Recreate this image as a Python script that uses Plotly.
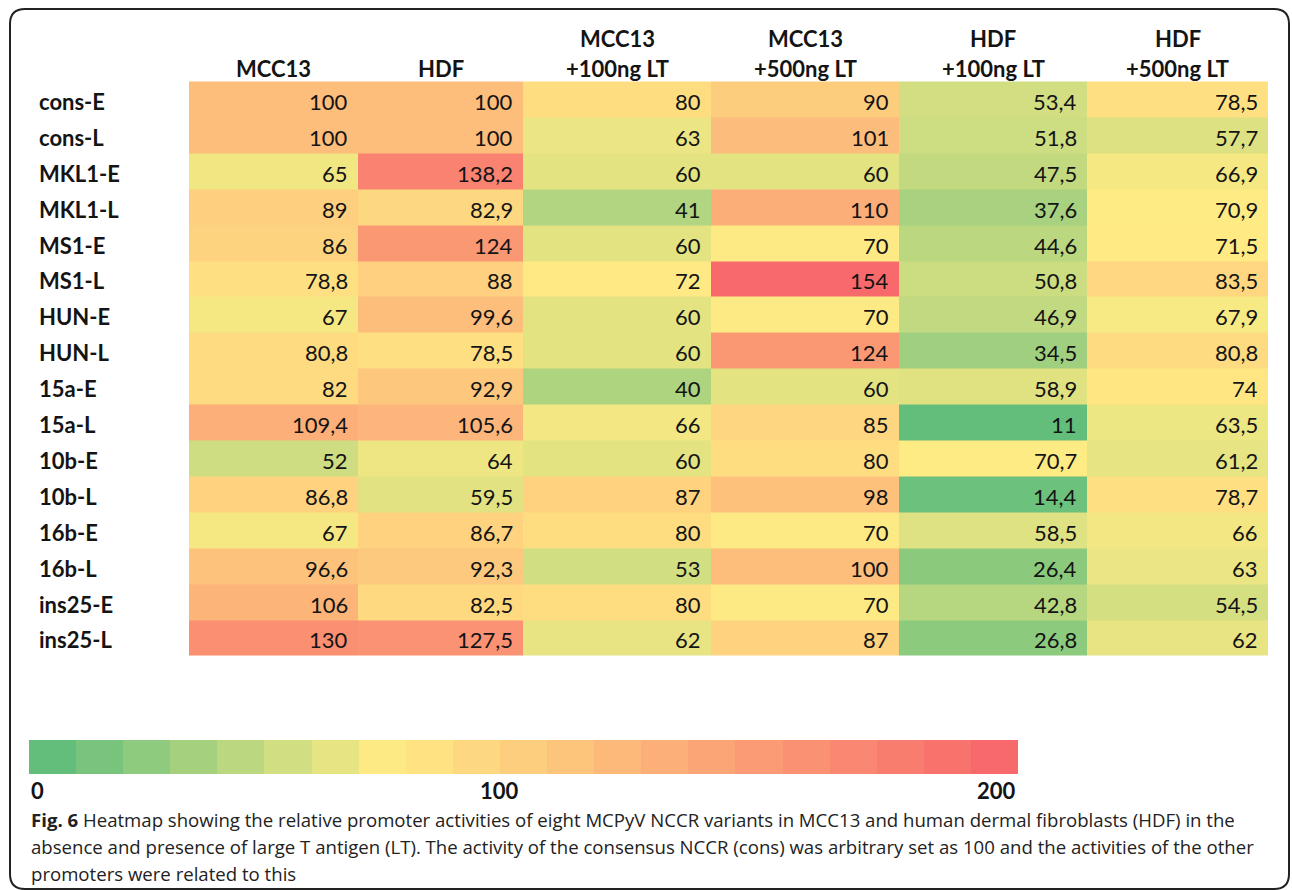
import numpy as np
import plotly.graph_objects as go

# ---------------- data ----------------
rows = ["cons-E", "cons-L", "MKL1-E", "MKL1-L", "MS1-E", "MS1-L", "HUN-E", "HUN-L",
        "15a-E", "15a-L", "10b-E", "10b-L", "16b-E", "16b-L", "ins25-E", "ins25-L"]
columns = ["MCC13", "HDF", "MCC13\n+100ng LT", "MCC13\n+500ng LT", "HDF\n+100ng LT", "HDF\n+500ng LT"]

mcc13 = [100, 100, 65, 89, 86, 78.8, 67, 80.8, 82, 109.4, 52, 86.8, 67, 96.6, 106, 130]
hdf = [100, 100, 138.2, 82.9, 124, 88, 99.6, 78.5, 92.9, 105.6, 64, 59.5, 86.7, 92.3, 82.5, 127.5]
mcc13_100lt = [80, 63, 60, 41, 60, 72, 60, 60, 40, 66, 60, 87, 80, 53, 80, 62]
mcc13_500lt = [90, 101, 60, 110, 70, 154, 70, 124, 60, 85, 80, 98, 70, 100, 70, 87]
hdf_100lt = [53.4, 51.8, 47.5, 37.6, 44.6, 50.8, 46.9, 34.5, 58.9, 11, 70.7, 14.4, 58.5, 26.4, 42.8, 26.8]
hdf_500lt = [78.5, 57.7, 66.9, 70.9, 71.5, 83.5, 67.9, 80.8, 74, 63.5, 61.2, 78.7, 66, 63, 54.5, 62]

legend_values = [0, 10, 20, 30, 40, 50, 60, 70, 80, 90, 100,
                 110, 120, 130, 140, 150, 160, 170, 180, 190, 200]
legend_labels = [0, 100, 200]

caption_lines = [
    "<b>Fig. 6</b> Heatmap showing the relative promoter activities of eight MCPyV NCCR variants in MCC13 and human dermal fibroblasts (HDF) in the",
    "absence and presence of large T antigen (LT). The activity of the consensus NCCR (cons) was arbitrary set as 100 and the activities of the other",
    "promoters were related to this",
]

# ---------------- layout / style ----------------
W, H = 1292, 890
GREEN, YELLOW, RED = "#63BE7B", "#FFEB84", "#F8696B"
TABLE_LEFT = 189
COL_WIDTHS = [169, 165, 188, 188, 188, 181]
TABLE_TOP = 81.5
ROW_H = 35.9
LEG_LEFT, LEG_RIGHT, LEG_TOP, LEG_BOTTOM = 29, 1018, 740, 774
TFONT = "Lato, 'Open Sans', sans-serif"
CFONT = "'Open Sans', 'Noto Sans', sans-serif"
TXT = "#141414"

z = np.array([mcc13, hdf, mcc13_100lt, mcc13_500lt, hdf_100lt, hdf_500lt], dtype=float).T
zmin, zmax, zmed = z.min(), z.max(), np.median(z)
mid = (zmed - zmin) / (zmax - zmin)

x_edges = TABLE_LEFT + np.concatenate([[0], np.cumsum(COL_WIDTHS)])
y_edges = TABLE_TOP + ROW_H * np.arange(len(rows) + 1)

fig = go.Figure()
fig.add_trace(go.Heatmap(
    z=z, x=x_edges, y=y_edges, zmin=zmin, zmax=zmax,
    colorscale=[[0, GREEN], [mid, YELLOW], [1, RED]],
    showscale=False, hoverinfo="skip",
))

# legend bar
lv = np.array(legend_values, dtype=float)
leg_edges = np.linspace(LEG_LEFT, LEG_RIGHT, len(legend_values) + 1)
lmid = (zmed - lv.min()) / (lv.max() - lv.min())
fig.add_trace(go.Heatmap(
    z=[legend_values], x=leg_edges, y=[LEG_TOP, LEG_BOTTOM],
    zmin=lv.min(), zmax=lv.max(),
    colorscale=[[0, GREEN], [lmid, YELLOW], [1, RED]],
    showscale=False, hoverinfo="skip",
))


def fmt(v):
    return f"{v:g}".replace(".", ",")


ann = []
# cell values
for i, r in enumerate(rows):
    yc = (y_edges[i] + y_edges[i + 1]) / 2
    for j in range(len(columns)):
        ann.append(dict(x=x_edges[j + 1] - 8, y=yc + 2, text=fmt(z[i, j]), xanchor="right",
                        yanchor="middle", showarrow=False,
                        font=dict(family=TFONT, size=22, color=TXT)))
    ann.append(dict(x=37, y=yc + 2, text=f"<b>{r}</b>", xanchor="left", yanchor="middle",
                    showarrow=False, font=dict(family=TFONT, size=22, color=TXT)))
# column headers
for j, c in enumerate(columns):
    xc = (x_edges[j] + x_edges[j + 1]) / 2
    parts = c.split("\n")
    ys = [68] if len(parts) == 1 else [38, 68]
    for p, yy in zip(parts, ys):
        ann.append(dict(x=xc, y=yy, text=f"<b>{p}</b>", xanchor="center", yanchor="middle",
                        showarrow=False, font=dict(family=TFONT, size=22, color=TXT)))
# legend labels
for v in legend_labels:
    k = legend_values.index(v)
    if k == 0:
        xx, xa = leg_edges[0], "left"
    elif k == len(legend_values) - 1:
        xx, xa = leg_edges[-1], "right"
    else:
        xx, xa = leg_edges[k], "center"
    ann.append(dict(x=xx, y=790, text=f"<b>{v}</b>", xanchor=xa, yanchor="middle",
                    showarrow=False, font=dict(family=TFONT, size=22, color=TXT)))
# caption
for k, line in enumerate(caption_lines):
    ann.append(dict(x=29, y=819 + 27 * k, text=line, xanchor="left", yanchor="middle",
                    showarrow=False, font=dict(family=CFONT, size=18.6, color="#222222")))

R = 15
L, T, Rt, B = 10, 9, 1289, 889
border = (f"M {L+R},{T} L {Rt-R},{T} Q {Rt},{T} {Rt},{T+R} L {Rt},{B-R} Q {Rt},{B} {Rt-R},{B} "
          f"L {L+R},{B} Q {L},{B} {L},{B-R} L {L},{T+R} Q {L},{T} {L+R},{T} Z")

fig.update_layout(
    width=W, height=H, margin=dict(l=0, r=0, t=0, b=0),
    paper_bgcolor="white", plot_bgcolor="white",
    xaxis=dict(range=[0, W], domain=[0, 1], visible=False, fixedrange=True),
    yaxis=dict(range=[H, 0], domain=[0, 1], visible=False, fixedrange=True),
    annotations=ann,
    shapes=[dict(type="path", path=border, xref="x", yref="y",
                 line=dict(color="#222222", width=2), layer="above")],
    showlegend=False,
)

fig.write_html("out.html", config={"displayModeBar": False},
               post_script="document.body.style.margin='0';document.body.style.overflow='hidden';")
